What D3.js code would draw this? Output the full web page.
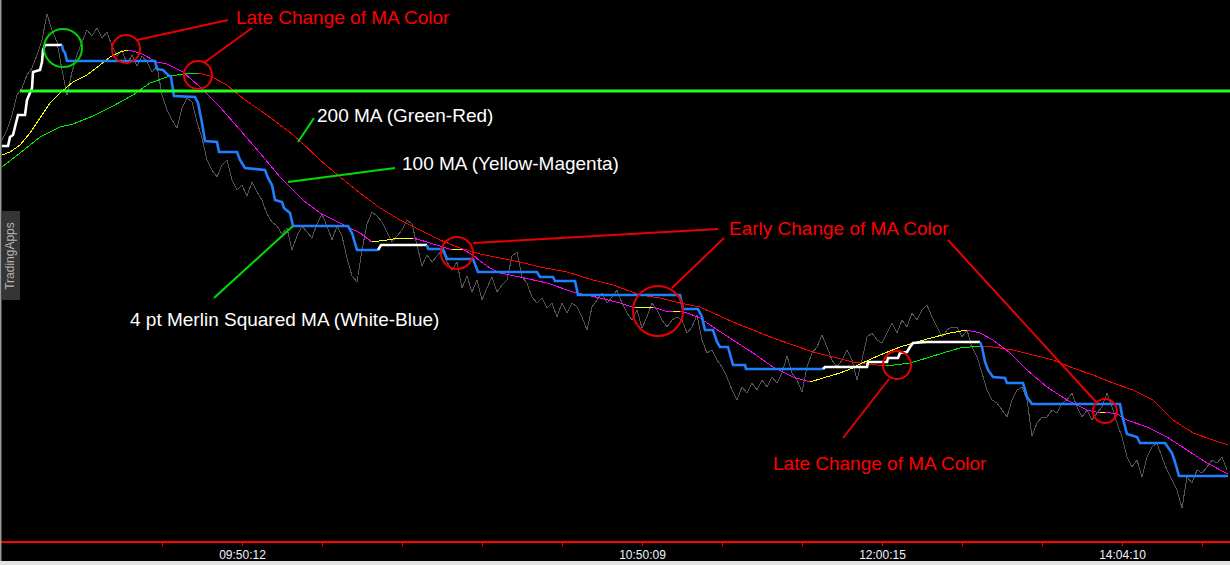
<!DOCTYPE html>
<html>
<head>
<meta charset="utf-8">
<script src="https://d3js.org/d3.v7.min.js"></script>
<style>
  html, body { margin: 0; padding: 0; background: #000; overflow: hidden; }
  svg { display: block; }
</style>
</head>
<body>
<div id="chart"></div>
<script>
// price sampled every 5 ticks (tick chart)
var priceStep = 5
var prices = [
  460,470,485,505,512,525,532,545,560,586,
  570,558,530,505,528,545,558,570,564,572,
  562,568,554,544,550,536,545,534,544,538,
  528,534,505,490,480,472,492,502,498,478,
  462,440,430,423,435,440,420,410,415,404,
  418,408,400,386,378,374,366,372,350,364,
  374,368,362,376,386,374,360,374,364,342,
  324,318,350,376,388,384,378,368,358,364,
  370,380,376,355,334,345,338,344,350,338,
  330,338,312,324,308,320,300,312,323,308,
  315,320,344,348,323,317,303,297,302,292,
  297,283,297,287,297,293,283,270,293,300,
  307,297,303,310,297,287,280,290,272,283,
  297,290,280,273,280,283,280,267,273,285,
  260,247,250,240,233,223,210,200,213,207,
  217,210,220,213,223,217,227,244,227,220,
  208,233,247,253,265,253,240,233,240,250,
  240,220,240,263,267,260,257,267,277,267,
  280,273,287,280,290,295,283,273,263,270,
  273,273,263,270,253,243,227,210,200,197,
  190,183,200,210,213,200,164,177,183,183,
  190,187,197,200,207,193,183,190,180,187,
  193,207,193,177,163,143,133,140,123,143,
  153,157,143,130,120,110,92,123,117,130,
  127,133,140,137,143,130
]

// 4 pt Merlin Squared MA  [tick, value]
var merlinMA = [
  [0,454],[6,454],[8,463],[11,465],[13,473],[16,485],[23,485],[25,500],[30,512],[31,528],
  [38,530],[40,538],[41,550],[43,555],[60,555],[61,550],[63,547],[65,539],[153,539],[155,531],
  [161,530],[165,526],[169,523],[172,504],[193,503],[196,497],[200,477],[203,459],[215,458],[217,448],
  [235,448],[238,440],[243,432],[263,430],[266,422],[270,415],[273,400],[280,398],[282,392],[288,387],
  [291,374],[346,374],[350,367],[355,350],[376,350],[379,355],[425,355],[426,351],[441,351],[445,341],
  [471,341],[476,328],[535,328],[538,323],[551,323],[553,319],[573,319],[576,305],[678,305],[681,291],
  [696,291],[700,283],[703,270],[711,270],[715,258],[718,253],[726,253],[731,235],[743,235],[744,231],
  [821,231],[823,233],[865,233],[866,238],[885,238],[886,242],[896,242],[898,247],[905,248],[908,253],
  [911,257],[925,258],[978,258],[980,253],[983,238],[986,230],[991,223],[1003,222],[1005,217],[1021,217],
  [1025,203],[1030,196],[1118,196],[1120,185],[1125,166],[1135,163],[1138,157],[1163,157],[1170,147],[1173,138],
  [1177,124],[1226,124]
]

// 100 MA  [tick, value]
var ma100 = [
  [0,445],[8,448],[18,455],[28,467],[38,482],[48,497],[58,507],[71,518],[85,525],[98,535],
  [108,543],[118,548],[126,550],[138,547],[155,538],[165,536],[181,528],[198,513],[218,493],[238,470],
  [258,447],[278,423],[288,413],[301,400],[318,387],[338,377],[358,367],[370,358],[385,360],[398,362],
  [411,362],[425,358],[441,353],[450,350],[460,351],[471,345],[478,339],[488,332],[498,327],[518,323],
  [545,317],[571,308],[598,302],[618,297],[633,292],[643,293],[651,293],[663,289],[671,288],[678,289],
  [688,286],[698,282],[711,273],[731,260],[751,247],[771,233],[791,223],[808,218],[821,222],[838,227],
  [851,232],[858,236],[878,245],[898,253],[925,261],[948,267],[965,270],[978,267],[991,260],[1008,247],
  [1025,230],[1045,213],[1065,200],[1085,190],[1098,187],[1103,188],[1115,186],[1125,180],[1145,173],[1165,163],
  [1185,150],[1205,137],[1226,126]
]

// 200 MA  [tick, value]
var ma200 = [
  [0,433],[18,447],[38,463],[58,473],[71,476],[91,484],[111,494],[131,505],[148,517],[168,524],
  [183,526],[196,527],[208,524],[225,515],[243,500],[265,485],[285,470],[298,459],[318,440],[338,423],
  [358,407],[378,392],[398,380],[418,370],[438,360],[458,352],[478,346],[498,342],[518,338],[538,333],
  [565,328],[591,320],[611,315],[638,305],[658,302],[678,297],[698,293],[711,287],[731,278],[751,270],
  [771,262],[791,255],[811,248],[831,243],[851,238],[865,236],[884,234],[908,237],[925,242],[941,247],
  [958,252],[978,254],[991,253],[1011,250],[1031,245],[1051,240],[1071,232],[1091,225],[1111,217],[1131,210],
  [1151,200],[1171,180],[1191,167],[1211,160],[1226,155]
]

// horizontal price level
var levelValue = 509
var levelStart = 18

// time axis
var axisTicks = [160,240,320,400,480,560,640,720,800,880,960,1040,1120,1200]
var labelTicks = [240,640,880,1120]
var labelTimes = ['09:50:12','10:50:09','12:00:15','14:04:10']

// annotations (tick, value)
var redCircles = [[124,551,14],[196,525,14],[455,347,16],[656,289,25],[895,235,14],[1103,189,12]]
var greenCircles = [[61,552,19]]
var redPointers = [
  [[135,560],[226,580]],
  [[203,538],[250,572]],
  [[471,357],[716,371]],
  [[670,312],[722,362]],
  [[946,360],[1095,197]],
  [[887,221],[841,162]]
]
var greenPointers = [
  [[296,458],[312,482]],
  [[286,418],[393,432]],
  [[291,374],[212,302]]
]
var notes = [
  { text: 'Late Change of MA Color', tick: 234, value: 576, color: 'red' },
  { text: '200 MA (Green-Red)', tick: 315, value: 478, color: 'white' },
  { text: '100 MA (Yellow-Magenta)', tick: 400, value: 430, color: 'white' },
  { text: '4 pt Merlin Squared MA (White-Blue)', tick: 128, value: 274, color: 'white' },
  { text: 'Early Change of MA Color', tick: 727, value: 365, color: 'red' },
  { text: 'Late Change of MA Color', tick: 771, value: 130, color: 'red' }
]

var W = 1230, H = 565
var axisY = 542

var xScale = d3.scaleLinear().domain([0, 1226]).range([2, 1228])
var yScale = d3.scaleLinear().domain([57, 600]).range([543, 0])

var svg = d3.select('#chart').append('svg')
    .attr('width', W)
    .attr('height', H)

svg.append('rect')
    .attr('width', W).attr('height', H)
    .attr('fill', '#000')

var line = d3.line()
    .x(function (d) { return xScale(d[0]) })
    .y(function (d) { return yScale(d[1]) })

// split a series into runs coloured by direction (up / down)
function runs(points, upColor, downColor) {
  var out = []
  var up = true
  var cur = null
  for (var i = 1; i < points.length; i++) {
    var dv = points[i][1] - points[i - 1][1]
    if (dv > 0) up = true
    else if (dv < 0) up = false
    var c = up ? upColor : downColor
    if (!cur || cur.color !== c) {
      cur = { color: c, pts: [points[i - 1]] }
      out.push(cur)
    }
    cur.pts.push(points[i])
  }
  return out
}

// price
var pricePts = prices.map(function (v, i) { return [i * priceStep, v] })
svg.append('path')
    .datum(pricePts)
    .attr('d', line)
    .attr('fill', 'none')
    .attr('stroke', '#555555')
    .attr('stroke-width', 1)
    .attr('shape-rendering', 'crispEdges')

// 200 MA
svg.selectAll('path.ma200')
    .data(runs(ma200, '#00ee00', '#ff0000'))
    .enter()
  .append('path')
    .attr('class', 'ma200')
    .attr('d', function (d) { return line(d.pts) })
    .attr('fill', 'none')
    .attr('stroke', function (d) { return d.color })
    .attr('stroke-width', 1)
    .attr('shape-rendering', 'crispEdges')

// 100 MA
svg.selectAll('path.ma100')
    .data(runs(ma100, '#ffff00', '#ff00ff'))
    .enter()
  .append('path')
    .attr('class', 'ma100')
    .attr('d', function (d) { return line(d.pts) })
    .attr('fill', 'none')
    .attr('stroke', function (d) { return d.color })
    .attr('stroke-width', 1)
    .attr('shape-rendering', 'crispEdges')

// Merlin MA
svg.selectAll('path.merlin')
    .data(runs(merlinMA, '#ffffff', '#1f80ff'))
    .enter()
  .append('path')
    .attr('class', 'merlin')
    .attr('d', function (d) { return line(d.pts) })
    .attr('fill', 'none')
    .attr('stroke', function (d) { return d.color })
    .attr('stroke-width', 2.6)
    .attr('stroke-linejoin', 'miter')

// level line
svg.append('line')
    .attr('x1', xScale(levelStart))
    .attr('x2', W)
    .attr('y1', yScale(levelValue))
    .attr('y2', yScale(levelValue))
    .attr('stroke', '#22ff22')
    .attr('stroke-width', 3)

// circles
svg.selectAll('circle.red')
    .data(redCircles)
    .enter()
  .append('circle')
    .attr('cx', function (d) { return xScale(d[0]) })
    .attr('cy', function (d) { return yScale(d[1]) })
    .attr('r', function (d) { return d[2] })
    .attr('fill', 'none')
    .attr('stroke', '#e80000')
    .attr('stroke-width', 2)
svg.selectAll('circle.green')
    .data(greenCircles)
    .enter()
  .append('circle')
    .attr('cx', function (d) { return xScale(d[0]) })
    .attr('cy', function (d) { return yScale(d[1]) })
    .attr('r', function (d) { return d[2] })
    .attr('fill', 'none')
    .attr('stroke', '#00d000')
    .attr('stroke-width', 2)

// pointer lines
svg.selectAll('path.rp')
    .data(redPointers)
    .enter()
  .append('path')
    .attr('d', line)
    .attr('stroke', '#e80000')
    .attr('stroke-width', 2)
svg.selectAll('path.gp')
    .data(greenPointers)
    .enter()
  .append('path')
    .attr('d', line)
    .attr('stroke', '#00dd00')
    .attr('stroke-width', 2)

// note texts
svg.selectAll('text.note')
    .data(notes)
    .enter()
  .append('text')
    .attr('x', function (d) { return xScale(d.tick) })
    .attr('y', function (d) { return yScale(d.value) })
    .attr('fill', function (d) { return d.color === 'red' ? '#ff0000' : '#ffffff' })
    .style('font-family', 'Arial, "Liberation Sans", sans-serif')
    .style('font-size', '19px')
    .text(function (d) { return d.text })

// x axis
var xAxis = d3.axisBottom(xScale)
    .tickValues(axisTicks)
    .tickSize(4)
    .tickFormat(function (t) {
      var k = labelTicks.indexOf(t)
      return k < 0 ? '' : labelTimes[k]
    })
var gx = svg.append('g')
    .attr('transform', 'translate(0,' + axisY + ')')
    .call(xAxis)
gx.select('.domain').remove()
gx.append('line')
    .attr('x1', 0).attr('x2', W)
    .attr('stroke', '#ff0000')
    .attr('stroke-width', 2)
gx.selectAll('.tick line').attr('stroke', '#ff0000')
gx.selectAll('.tick text')
    .attr('y', 8)
    .attr('fill', '#eef4ff')
    .style('font-family', 'Arial, "Liberation Sans", sans-serif')
    .style('font-size', '12px')

// window chrome: bottom strip, left border, side tab
svg.append('rect')
    .attr('x', 0).attr('y', 561).attr('width', W).attr('height', 4)
    .attr('fill', '#e2e2e2')
svg.append('rect')
    .attr('x', 0).attr('y', 0).attr('width', 1.5).attr('height', 561)
    .attr('fill', '#9a9a9a')
svg.append('rect')
    .attr('x', 1.5).attr('y', 211).attr('width', 18.5).attr('height', 89)
    .attr('fill', '#353535')
svg.append('text')
    .attr('transform', 'translate(14,256) rotate(-90)')
    .attr('text-anchor', 'middle')
    .attr('fill', '#b4b4b4')
    .style('font-family', 'Arial, "Liberation Sans", sans-serif')
    .style('font-size', '12px')
    .text('TradingApps')
</script>
</body>
</html>
